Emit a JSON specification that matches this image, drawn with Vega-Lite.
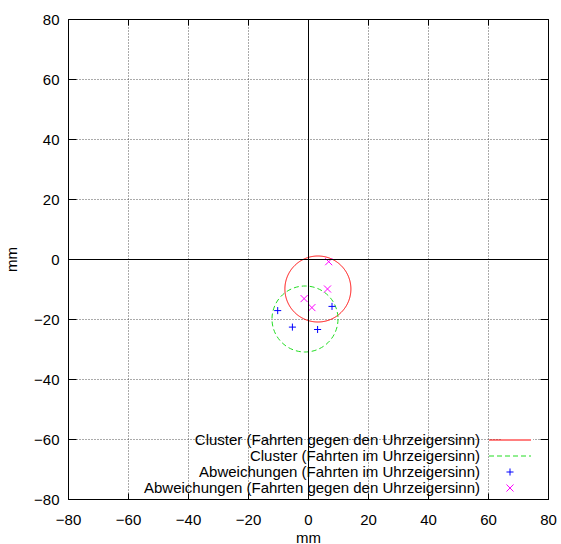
{
  "$schema": "https://vega.github.io/schema/vega-lite/v6.json",
  "width": 480,
  "height": 480,
  "autosize": "none",
  "padding": {"left": 68, "top": 19, "right": 13, "bottom": 45},
  "background": "white",
  "config": {
    "view": {"stroke": null},
    "font": "Liberation Sans",
    "axis": {
      "labelFont": "Liberation Sans",
      "labelFontSize": 15,
      "labelColor": "black",
      "titleFont": "Liberation Sans",
      "titleFontSize": 15,
      "titleFontWeight": "normal",
      "titleColor": "black",
      "domainColor": "black",
      "domainWidth": 1,
      "tickColor": "black",
      "tickWidth": 1
    },
    "legend": {
      "labelFont": "Liberation Sans",
      "labelFontSize": 15,
      "labelColor": "black",
      "labelLimit": 0,
      "labelAlign": "right",
      "labelOffset": -38,
      "symbolSize": 225,
      "symbolStrokeWidth": 1,
      "padding": 0,
      "rowPadding": 0,
      "fillColor": "white"
    }
  },
  "datasets": {
    "clusters": [
      {"series": "Cluster (Fahrten gegen den Uhrzeigersinn)", "x": 3.3, "y": -10},
      {"series": "Cluster (Fahrten im Uhrzeigersinn)", "x": -1, "y": -20}
    ],
    "points": [
      {"series": "Abweichungen (Fahrten im Uhrzeigersinn)", "x": -10.1, "y": -17.2},
      {"series": "Abweichungen (Fahrten im Uhrzeigersinn)", "x": -5.2, "y": -22.7},
      {"series": "Abweichungen (Fahrten im Uhrzeigersinn)", "x": 3.2, "y": -23.5},
      {"series": "Abweichungen (Fahrten im Uhrzeigersinn)", "x": 8, "y": -15.8},
      {"series": "Abweichungen (Fahrten gegen den Uhrzeigersinn)", "x": 6.9, "y": -0.9},
      {"series": "Abweichungen (Fahrten gegen den Uhrzeigersinn)", "x": 6.5, "y": -10},
      {"series": "Abweichungen (Fahrten gegen den Uhrzeigersinn)", "x": -1.3, "y": -13.2},
      {"series": "Abweichungen (Fahrten gegen den Uhrzeigersinn)", "x": 1.3, "y": -16.2}
    ]
  },
  "layer": [
    {
      "data": {"name": "clusters"},
      "mark": {"type": "point", "shape": "circle", "size": 4356, "filled": false, "strokeWidth": 1, "opacity": 1},
      "encoding": {
        "x": {
          "field": "x", "type": "quantitative",
          "scale": {"domain": [-80, 80], "nice": false, "zero": false},
          "axis": {
            "orient": "bottom", "title": "mm", "values": [-80, -60, -40, -20, 0, 20, 40, 60, 80],
            "tickSize": -6, "labelPadding": 19, "titlePadding": 3, "labelFlush": false, "labelOverlap": false,
            "grid": true, "gridColor": "black", "gridWidth": 1,
            "gridOpacity": {"condition": {"test": "datum.value === 0", "value": 1}, "value": 0},
            "zindex": 1
          }
        },
        "y": {
          "field": "y", "type": "quantitative",
          "scale": {"domain": [-80, 80], "nice": false, "zero": false},
          "axis": {
            "orient": "left", "title": "mm", "values": [-80, -60, -40, -20, 0, 20, 40, 60, 80],
            "tickSize": -8, "labelPadding": 17, "titlePadding": 14, "labelFlush": false, "labelOverlap": false,
            "grid": true, "gridColor": "black", "gridWidth": 1,
            "gridOpacity": {"condition": {"test": "datum.value === 0", "value": 1}, "value": 0},
            "zindex": 1
          }
        },
        "color": {
          "field": "series", "type": "nominal",
          "scale": {
            "domain": ["Cluster (Fahrten gegen den Uhrzeigersinn)", "Cluster (Fahrten im Uhrzeigersinn)", "Abweichungen (Fahrten im Uhrzeigersinn)", "Abweichungen (Fahrten gegen den Uhrzeigersinn)"],
            "range": ["#ff0000", "#22dd22", "#0000ff", "#ff00ff"]
          },
          "legend": {"title": null, "orient": "none", "legendX": 434, "legendY": 413}
        },
        "strokeDash": {
          "field": "series", "type": "nominal",
          "scale": {
            "domain": ["Cluster (Fahrten gegen den Uhrzeigersinn)", "Cluster (Fahrten im Uhrzeigersinn)"],
            "range": [[1, 0], [5, 3]]
          },
          "legend": null
        }
      }
    },
    {
      "data": {"name": "points"},
      "mark": {"type": "point", "size": 225, "filled": false, "strokeWidth": 1, "opacity": 1},
      "encoding": {
        "x": {
          "field": "x", "type": "quantitative",
          "scale": {"domain": [-80, 80], "nice": false, "zero": false},
          "axis": {
            "orient": "top", "title": null, "labels": false, "values": [-80, -60, -40, -20, 0, 20, 40, 60, 80],
            "tickSize": -6,
            "grid": true, "gridColor": "#555555", "gridDash": [1, 2], "gridWidth": 1,
            "gridOpacity": {"condition": {"test": "datum.value === 0", "value": 0}, "value": 1},
            "zindex": 0
          }
        },
        "y": {
          "field": "y", "type": "quantitative",
          "scale": {"domain": [-80, 80], "nice": false, "zero": false},
          "axis": {
            "orient": "right", "title": null, "labels": false, "values": [-80, -60, -40, -20, 0, 20, 40, 60, 80],
            "tickSize": -8,
            "grid": true, "gridColor": "#555555", "gridDash": [1, 2], "gridWidth": 1,
            "gridOpacity": {"condition": {"test": "datum.value === 0", "value": 0}, "value": 1},
            "zindex": 0
          }
        },
        "color": {
          "field": "series", "type": "nominal",
          "scale": {
            "domain": ["Cluster (Fahrten gegen den Uhrzeigersinn)", "Cluster (Fahrten im Uhrzeigersinn)", "Abweichungen (Fahrten im Uhrzeigersinn)", "Abweichungen (Fahrten gegen den Uhrzeigersinn)"],
            "range": ["#ff0000", "#22dd22", "#0000ff", "#ff00ff"]
          },
          "legend": {"title": null, "orient": "none", "legendX": 434, "legendY": 413}
        },
        "shape": {
          "field": "series", "type": "nominal",
          "scale": {
            "domain": ["Cluster (Fahrten gegen den Uhrzeigersinn)", "Cluster (Fahrten im Uhrzeigersinn)", "Abweichungen (Fahrten im Uhrzeigersinn)", "Abweichungen (Fahrten gegen den Uhrzeigersinn)"],
            "range": [
              "M-2.8,0L2.8,0",
              "M-2.8,0L-2.133,0M-1.733,0L-1.067,0M-0.667,0L0,0M0.4,0L1.067,0M1.467,0L2.133,0M2.533,0L2.8,0",
              "M-0.47,0L0.47,0M0,-0.47L0,0.47",
              "M-0.47,-0.47L0.47,0.47M-0.47,0.47L0.47,-0.47"
            ]
          },
          "legend": {"title": null, "orient": "none", "legendX": 434, "legendY": 413}
        }
      }
    }
  ],
  "resolve": {"axis": {"x": "independent", "y": "independent"}}
}
